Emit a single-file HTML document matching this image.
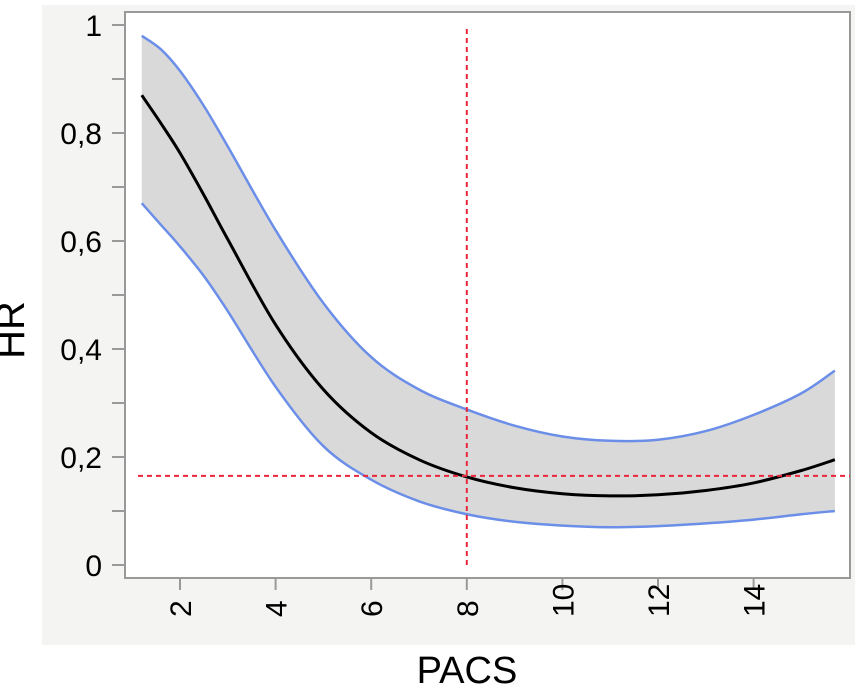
<!DOCTYPE html>
<html><head><meta charset="utf-8"><style>
html,body{margin:0;padding:0;background:#fff;}
svg{display:block;font-family:"Liberation Sans",sans-serif;}
</style></head><body>
<svg id="chart" width="855" height="692">
<rect x="42" y="5" width="813" height="640" fill="#f4f4f2"/>
<rect x="125" y="12" width="725" height="566" fill="#fff" stroke="#999" stroke-width="2"/>
<g id="g"></g>
<text x="24" y="330" font-size="40" text-anchor="middle" transform="rotate(-90 24 330)">HR</text>
<text x="467" y="683" font-size="38" text-anchor="middle">PACS</text>
</svg>
<script>
const xs=[1.2,1.6,2,2.5,3,4,5,6,7,8,9,10,11,12,13,14,15,15.7];
const meanHR=[0.87,0.818,0.763,0.685,0.603,0.445,0.325,0.245,0.195,0.163,0.143,0.132,0.128,0.13,0.138,0.152,0.175,0.195];
const upperHR=[0.98,0.955,0.915,0.85,0.775,0.62,0.485,0.385,0.325,0.288,0.258,0.238,0.23,0.232,0.248,0.278,0.318,0.36];
const lowerHR=[0.67,0.63,0.59,0.535,0.47,0.33,0.22,0.158,0.118,0.094,0.08,0.073,0.07,0.072,0.077,0.084,0.094,0.1];
const xTicks=[2,4,6,8,10,12,14];
const yTicks=[0,0.2,0.4,0.6,0.8,1];
const yTickLabels=["0","0,2","0,4","0,6","0,8","1"];
const refX=8, refY=0.165;
const X=v=>180+(v-2)*47.8;
const Y=v=>565-v*540;
const g=document.getElementById('g');
const NS='http://www.w3.org/2000/svg';
function mk(t,a,p){const e=document.createElementNS(NS,t);for(const k in a)e.setAttribute(k,a[k]);(p||g).appendChild(e);return e;}
function path(ys,rev){let pts=xs.map((x,i)=>[X(x),Y(ys[i])]);if(rev)pts=pts.reverse();
 let d=(rev?'L':'M')+pts[0][0]+','+pts[0][1];
 for(let i=0;i<pts.length-1;i++){const p0=pts[Math.max(i-1,0)],p1=pts[i],p2=pts[i+1],p3=pts[Math.min(i+2,pts.length-1)];
 d+=`C${p1[0]+(p2[0]-p0[0])/6},${p1[1]+(p2[1]-p0[1])/6} ${p2[0]-(p3[0]-p1[0])/6},${p2[1]-(p3[1]-p1[1])/6} ${p2[0]},${p2[1]}`;}
 return d;}
const band=mk('path',{d:path(upperHR)+path(lowerHR,true)+'Z',fill:'#d9d9d9'});


const up=mk('path',{d:path(upperHR),fill:'none',stroke:'#6b8ee8','stroke-width':2.5});


const lo=mk('path',{d:path(lowerHR),fill:'none',stroke:'#6b8ee8','stroke-width':2.5});


const mn=mk('path',{d:path(meanHR),fill:'none',stroke:'#000','stroke-width':3});


const rv=mk('line',{x1:X(refX),x2:X(refX),y1:29,y2:565,stroke:'#e8283a','stroke-width':2,'stroke-dasharray':'5,4'});


const rh=mk('line',{x1:138,x2:850,y1:Y(refY),y2:Y(refY),stroke:'#e8283a','stroke-width':2,'stroke-dasharray':'5,4'});


for(let v=0;v<=1.0001;v+=0.1){const t=mk('line',{x1:112,x2:125,y1:Y(v),y2:Y(v),stroke:'#999','stroke-width':2});

}
yTicks.forEach((v,i)=>{const t=mk('text',{x:102,y:Y(v)+11,'font-size':30,'text-anchor':'end'});t.textContent=yTickLabels[i];

});
xTicks.forEach(v=>{const t=mk('line',{x1:X(v),x2:X(v),y1:578,y2:590,stroke:'#999','stroke-width':2});


const l=mk('text',{x:X(v),y:617,'font-size':30,'text-anchor':'start',transform:`rotate(-90 ${X(v)} 617)`,dy:11});
l.textContent=v;

});
</script>
</body></html>
